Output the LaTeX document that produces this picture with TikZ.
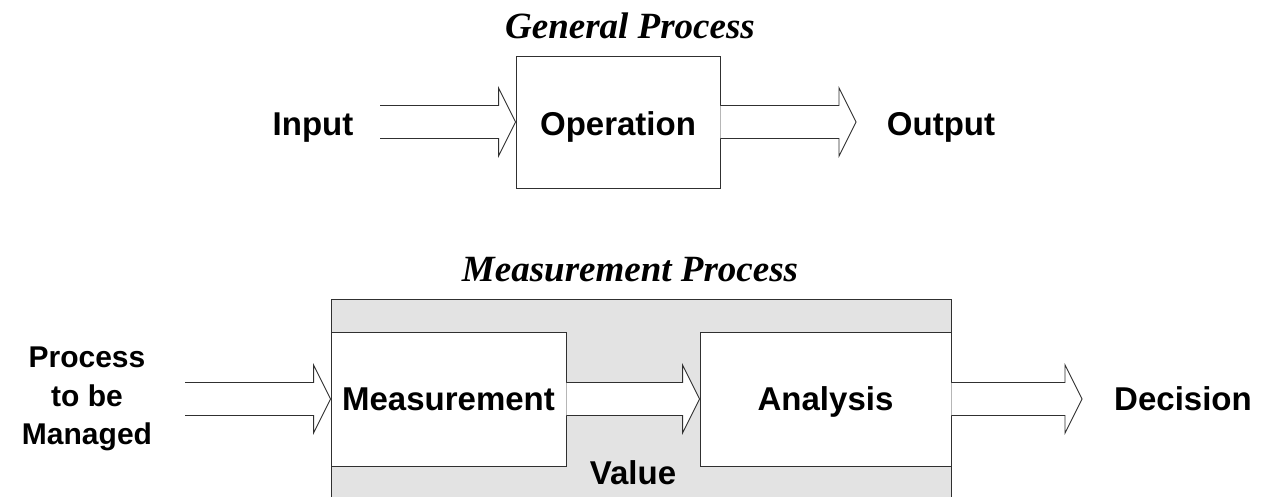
\documentclass[tikz,border=0pt]{standalone}
\usepackage{fontspec}
\setmainfont{Liberation Sans}
\newfontfamily\titlefont{Liberation Serif}
\usetikzlibrary{calc}
\definecolor{boxgray}{HTML}{E3E3E3}
\definecolor{edge}{HTML}{303030}
\newcommand\blockarrow[2]{%
  \draw[barrow] ($(#1)+(0,-16.5)$) -- ($(#2)+(-17,-16.5)$) -- ($(#2)+(-17,-34)$)
    -- (#2) -- ($(#2)+(-17,34)$) -- ($(#2)+(-17,16.5)$) -- ($(#1)+(0,16.5)$);}
\begin{document}
\begin{tikzpicture}[x=1pt,y=-1pt,
  box/.style={draw=edge, line width=0.9pt, fill=white, inner sep=0pt,
    font=\fontsize{33}{38}\selectfont\bfseries, text height=23.6pt, text depth=0pt},
  lab/.style={inner sep=0pt, font=\fontsize{33}{38}\selectfont\bfseries,
    text height=23.6pt, text depth=0pt},
  ttl/.style={inner sep=0pt, anchor=base,
    font=\titlefont\fontsize{37}{40}\selectfont\bfseries\itshape},
  barrow/.style={draw=edge, line width=0.9pt, fill=white, line join=miter}
]
\useasboundingbox (0,0) rectangle (1265,496);
\fill[white] (0,0) rectangle (1265,496);

% ---------- General process ----------
\node[ttl] (gtitle) at (630,38.3) {General Process};
\node[box, minimum width=204pt, minimum height=132pt, text height=27.6pt] (op) at (618,122) {Operation};
\coordinate (inTail) at (380,122);
\coordinate (outTip) at (856,122);
\blockarrow{inTail}{op.west}
\blockarrow{op.east}{outTip}
\node[lab] (input) at (313,124) {Input};
\node[lab] (output) at (941,124) {Output};

% ---------- Measurement process ----------
\node[ttl] (mtitle) at (630,281) {Measurement Process};
\node[draw=edge, line width=0.9pt, fill=boxgray, minimum width=620pt,
  minimum height=240pt, inner sep=0pt] (mp) at (641,419) {};
\node[box, minimum width=235pt, minimum height=134pt] (meas) at (448.5,399) {Measurement};
\node[box, minimum width=251pt, minimum height=134pt] (an) at (825.5,399) {Analysis};
\coordinate (pTail) at (185,399);
\coordinate (dTip) at (1082,399);
\blockarrow{pTail}{meas.west}
\blockarrow{meas.east}{an.west}
\blockarrow{an.east}{dTip}
\node[inner sep=0pt, align=center, font=\fontsize{30}{38.5}\selectfont\bfseries]
  (proc) at (87,399) {Process\\to be\\Managed};
\node[lab] (value) at (633,473) {Value};
\node[lab] (decision) at (1183,399) {Decision};
\end{tikzpicture}
\end{document}
